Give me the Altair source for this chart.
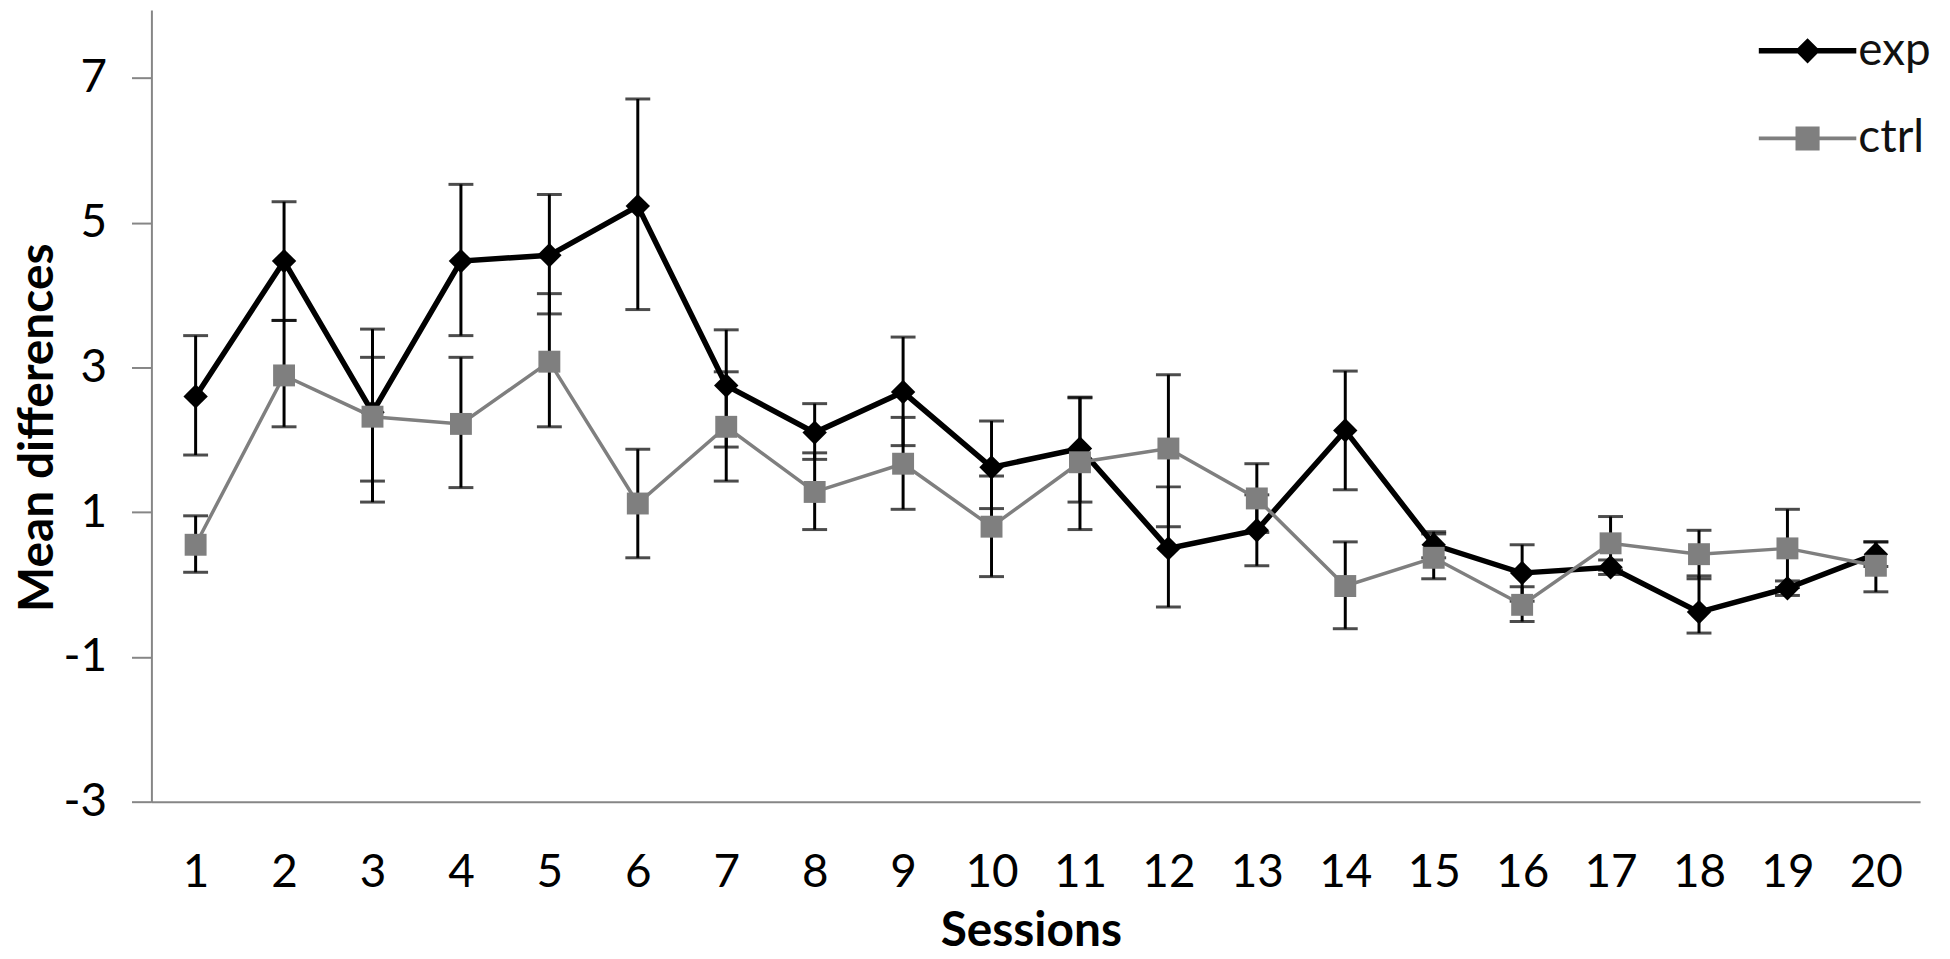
import altair as alt
import pandas as pd

sessions = list(range(1, 21))

exp_mean = [2.60, 4.47, 2.38, 4.47, 4.55, 5.23, 2.75, 2.10, 2.66, 1.62,
            1.88, 0.50, 0.75, 2.13, 0.55, 0.16, 0.24, -0.38, -0.05, 0.42]
exp_lo = [1.79, 3.65, 1.14, 3.44, 3.74, 3.80, 1.90, 1.73, 1.92, 1.05,
          1.14, -0.31, 0.26, 1.31, 0.37, -0.23, 0.14, -0.67, -0.15, 0.25]
exp_hi = [3.44, 5.29, 3.53, 5.53, 5.39, 6.71, 3.52, 2.50, 3.42, 2.26,
          2.59, 1.35, 1.24, 2.95, 0.73, 0.55, 0.34, 0.12, 0.05, 0.59]

ctrl_mean = [0.55, 2.89, 2.32, 2.22, 3.08, 1.12, 2.18, 1.28, 1.67, 0.80,
             1.69, 1.88, 1.19, -0.02, 0.37, -0.28, 0.57, 0.42, 0.50, 0.26]
ctrl_lo = [0.17, 2.18, 1.43, 1.34, 2.18, 0.37, 1.43, 0.76, 1.04, 0.11,
           0.76, 0.80, 0.72, -0.61, 0.08, -0.51, 0.20, 0.08, -0.04, -0.10]
ctrl_hi = [0.95, 3.65, 3.14, 3.14, 4.02, 1.87, 2.94, 1.82, 2.31, 1.50,
           2.58, 2.90, 1.67, 0.59, 0.70, -0.03, 0.94, 0.75, 1.04, 0.59]

series_names = ["exp", "ctrl"]
y_ticks = [-3, -1, 1, 3, 5, 7]

rows = []
for name, m, lo, hi in [("exp", exp_mean, exp_lo, exp_hi), ("ctrl", ctrl_mean, ctrl_lo, ctrl_hi)]:
    for s, a, b, c in zip(sessions, m, lo, hi):
        rows.append({"series": name, "session": s, "mean": a, "lo": b, "hi": c})
df = pd.DataFrame(rows)

FONT = "Lato"
BLACK = "#000000"
GRAY = "#7f7f7f"

x_enc = alt.X(
    "session:O",
    scale=alt.Scale(type="point", padding=0.5),
    axis=alt.Axis(
        title="Sessions",
        labelAngle=0,
        ticks=False,
        tickSize=0,
        labelPadding=49,
        domainColor="#868686",
        domainWidth=2,
        titleY=144,
        titleX=883,
        titleBaseline="alphabetic",
        titleAlign="center",
    ),
)
y_scale = alt.Scale(domain=[-3, 7.94], nice=False, zero=False)
y_axis = alt.Axis(
    title="Mean differences",
    values=y_ticks,
    labelExpr="datum.value < 0 ? '-' + abs(datum.value) : '' + datum.value",
    grid=False,
    tickSize=20,
    tickColor="#868686",
    tickWidth=2,
    labelPadding=25,
    domainColor="#868686",
    domainWidth=2,
    titleAngle=270,
    titleX=-113,
    titleY=419,
    titleAlign="center",
    titleBaseline="middle",
)

base = alt.Chart(df)


def layers_for(name, color, line_w, shape, size):
    d = base.transform_filter(alt.datum.series == name)
    rule = d.mark_rule(color=BLACK, strokeWidth=3).encode(
        x=x_enc, y=alt.Y("lo:Q", scale=y_scale, axis=y_axis), y2="hi:Q"
    )
    cap_lo = d.mark_tick(color=BLACK, size=25, thickness=3).encode(
        x=x_enc, y=alt.Y("lo:Q", scale=y_scale, axis=y_axis)
    )
    cap_hi = d.mark_tick(color=BLACK, size=25, thickness=3).encode(
        x=x_enc, y=alt.Y("hi:Q", scale=y_scale, axis=y_axis)
    )
    line = d.mark_line(color=color, strokeWidth=line_w).encode(
        x=x_enc, y=alt.Y("mean:Q", scale=y_scale, axis=y_axis)
    )
    pts = d.mark_point(shape=shape, filled=True, size=size, color=color, opacity=1).encode(
        x=x_enc, y=alt.Y("mean:Q", scale=y_scale, axis=y_axis)
    )
    return [rule, cap_lo, cap_hi, line, pts]


exp_path = ("M-4.45,-0.25 L4.45,-0.25 L4.45,0.25 L-4.45,0.25 Z "
            "M0,-1.15 L1.15,0 L0,1.15 L-1.15,0 Z")
ctrl_path = ("M-4.45,-0.17 L4.45,-0.17 L4.45,0.17 L-4.45,0.17 Z "
             "M-1.1,-1.1 L1.1,-1.1 L1.1,1.1 L-1.1,1.1 Z")

legend_props = dict(
    title=None,
    orient="none",
    legendX=1640,
    legendY=18,
    padding=0,
    symbolSize=484,
    symbolStrokeWidth=0,
    labelOffset=28,
    rowPadding=42,
    labelFont=FONT,
    labelFontSize=46,
    labelColor="#111111",
)

legend_layer = base.transform_filter("false").mark_point(filled=True, opacity=1).encode(
    x=x_enc,
    y=alt.Y("mean:Q", scale=y_scale, axis=y_axis),
    fill=alt.Fill(
        "series:N",
        scale=alt.Scale(domain=series_names, range=[BLACK, GRAY]),
        legend=alt.Legend(**legend_props),
    ),
    shape=alt.Shape(
        "series:N",
        scale=alt.Scale(domain=series_names, range=[exp_path, ctrl_path]),
        legend=alt.Legend(**legend_props),
    ),
)

all_layers = (
    layers_for("exp", BLACK, 5.5, "diamond", 600)
    + layers_for("ctrl", GRAY, 3.5, "square", 484)
    + [legend_layer]
)

chart = (
    alt.layer(*all_layers)
    .properties(
        width=1776,
        height=795,
        autosize=alt.AutoSizeParams(type="none"),
        padding={"left": 144, "top": 0, "right": 22, "bottom": 155},
        background="white",
    )
    .configure_view(stroke=None)
    .configure_axis(
        labelFont=FONT,
        labelFontSize=46,
        labelColor="#000000",
        titleFont=FONT,
        titleFontSize=48,
        titleFontWeight="bold",
        titleColor="#000000",
        grid=False,
    )
)

chart.save("out.html", embed_options={"renderer": "svg", "actions": False})
